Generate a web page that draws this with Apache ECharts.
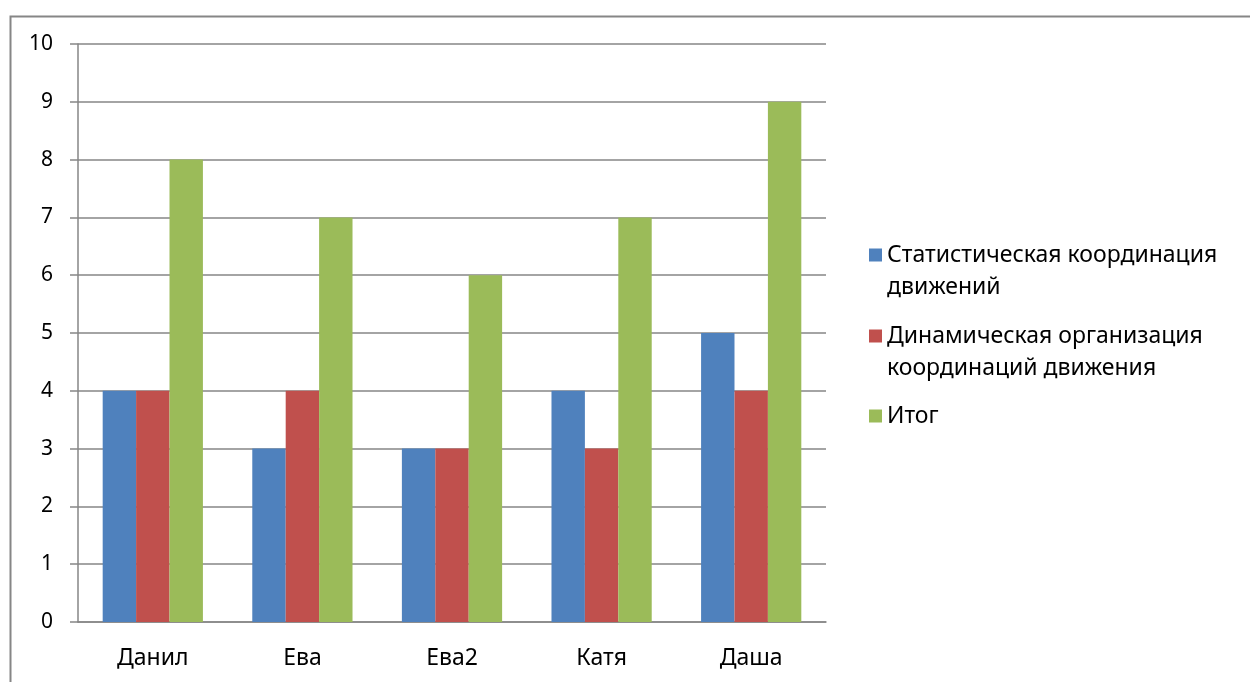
<!DOCTYPE html>
<html>
<head>
<meta charset="utf-8">
<title>Координация движений</title>
<script src="https://cdn.jsdelivr.net/npm/echarts@6/dist/echarts.min.js"></script>
<style>
  html, body { margin: 0; padding: 0; background: #fff; }
  #chart { width: 1250px; height: 682px; }
</style>
</head>
<body>
<div id="chart"></div>
<script>
const categories = ['Данил', 'Ева', 'Ева2', 'Катя', 'Даша']
const staticCoord = [4, 3, 3, 4, 5]
const dynamicOrg = [4, 4, 3, 3, 4]
const total = [8, 7, 6, 7, 9]
const seriesNames = [
  'Статистическая координация движений',
  'Динамическая организация координаций движения',
  'Итог'
]
// переносы строк в легенде как на картинке
// (пустая строка сверху — чтобы значок стоял напротив первой строки)
const legendLabels = [
  '\nСтатистическая координация\nдвижений',
  '\nДинамическая организация\nкоординаций движения',
  'Итог'
]
const colors = ['#4F81BD', '#C0504D', '#9BBB59']

const font = 'Noto Sans, Liberation Sans, sans-serif'
const gridColor = '#868686'
const lineH = 32

const chart = echarts.init(document.getElementById('chart'))

// одна легенда на каждый пункт, чтобы выставить позиции
function makeLegend(i, top) {
  return {
    left: 869,
    top: top,
    padding: 0,
    itemWidth: 13,
    itemHeight: 13,
    icon: 'rect',
    selectedMode: false,
    data: [seriesNames[i]],
    formatter: () => legendLabels[i],
    textStyle: {
      fontFamily: font,
      fontSize: 23,
      color: '#000',
      lineHeight: lineH
    }
  }
}

chart.setOption({
  animation: false,
  color: colors,
  textStyle: { fontFamily: font },
  graphic: [{
    type: 'rect',
    left: 8,
    top: 14,
    shape: { width: 1300, height: 700 },
    style: { fill: 'none', stroke: gridColor, lineWidth: 2 },
    z: -1
  }],
  legend: [
    makeLegend(0, 255 - 48),
    makeLegend(1, 336 - 48),
    makeLegend(2, 416 - 16)
  ],
  grid: { left: 78, right: 424, top: 44, bottom: 60 },
  xAxis: {
    type: 'category',
    data: categories,
    axisLine: { lineStyle: { color: gridColor, width: 1.5 } },
    axisTick: { length: 6, lineStyle: { color: gridColor, width: 1.5 } },
    axisLabel: { color: '#000', fontSize: 23, margin: 25 }
  },
  yAxis: {
    type: 'value',
    min: 0,
    max: 10,
    interval: 1,
    axisLine: { show: true, lineStyle: { color: gridColor, width: 1.5 } },
    axisTick: { show: true, length: 8, lineStyle: { color: gridColor, width: 1.5 } },
    axisLabel: { color: '#000', fontSize: 21, margin: 25 },
    splitLine: { lineStyle: { color: gridColor, width: 1.5 } }
  },
  series: [
    { name: seriesNames[0], type: 'bar', data: staticCoord, barGap: '0%', barCategoryGap: '33%' },
    { name: seriesNames[1], type: 'bar', data: dynamicOrg, barGap: '0%', barCategoryGap: '33%' },
    { name: seriesNames[2], type: 'bar', data: total, barGap: '0%', barCategoryGap: '33%' }
  ]
})
</script>
</body>
</html>
